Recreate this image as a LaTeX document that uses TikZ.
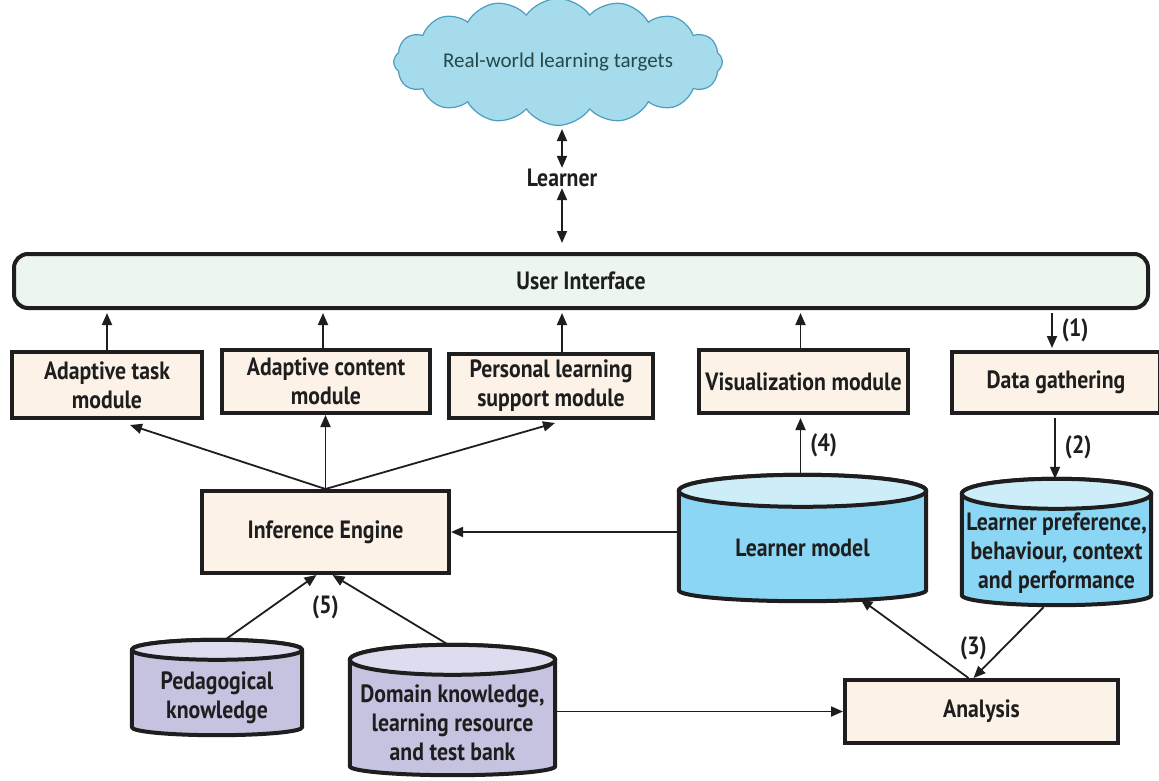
\documentclass[tikz,border=0pt]{standalone}
\usepackage{fontspec}
\setmainfont[FakeStretch=0.87]{PT Sans}
\newfontfamily\cloudfont{Carlito}
\usetikzlibrary{shapes.symbols,arrows.meta,calc,backgrounds}
\definecolor{boxfill}{HTML}{FDF2E8}
\definecolor{uifill}{HTML}{EDF6EE}
\definecolor{lmbody}{HTML}{8BD6F4}
\definecolor{lmtop}{HTML}{CDEDF9}
\definecolor{kbody}{HTML}{C6C3E1}
\definecolor{ktop}{HTML}{DEDCEF}
\definecolor{cloudfill}{HTML}{A5DBEA}
\definecolor{cloudline}{HTML}{4C9DBF}
\definecolor{cloudtext}{HTML}{264848}
\definecolor{ink}{HTML}{1E1E1E}
\tikzset{
  txt/.style={font=\bfseries\fontsize{25}{29}\selectfont, text=ink},
  box/.style={draw=ink, line width=4pt, fill=boxfill, align=center, inner sep=0pt, txt},
  db/.style={inner sep=0pt},
  dblabel/.style={txt, align=center},
  conn/.style={draw=ink, line width=1.8pt, -{Triangle[length=12pt,width=10pt]}},
  dconn/.style={draw=ink, line width=1.8pt, {Triangle[length=12pt,width=10pt]}-{Triangle[length=12pt,width=10pt]}},
  lbl/.style={txt, inner sep=1pt},
  dbline/.style={draw=ink, line width=4pt, line join=round}
}
% #1 node name, #2 body colour, #3 top colour, #4 top cap depth, #5 bottom depth
\newcommand\dbdraw[5]{%
  \path[dbline, fill=#2] let \p1=(#1.north west), \p2=(#1.south east), \n1={(\x2-\x1)/2} in
    (\x1,{\y1-#4}) -- (\x1,{\y2+#5})
    arc[start angle=180, end angle=360, x radius=\n1, y radius=#5]
    -- (\x2,{\y1-#4})
    arc[start angle=0, end angle=180, x radius=\n1, y radius=#4] -- cycle;
  \path[dbline, fill=#3] let \p1=(#1.north west), \p2=(#1.north east), \n1={(\x2-\x1)/2} in
    ({(\x1+\x2)/2},{\y1-#4}) ellipse[x radius=\n1, y radius=#4];
}
\begin{document}
\begin{tikzpicture}[x=1pt,y=-1pt]
\useasboundingbox (0,0) rectangle (1159,780);

% cloud
\node[cloud, cloud puffs=16, cloud puff arc=110, aspect=3.4, draw=cloudline, line width=1.2pt,
      fill=cloudfill, minimum width=325pt, minimum height=92pt, inner sep=0pt,
      font=\cloudfont\fontsize{21}{24}\selectfont, text=cloudtext] (rw) at (558,62) {Real-world learning targets};

\node[lbl] (lr) at (562,178) {Learner};

\node[draw=ink, line width=4pt, rounded corners=14pt, fill=uifill, minimum width=1134pt,
      minimum height=54pt, txt] (ui) at (581,281) {User Interface};

% module row
\node[box, minimum width=190pt, minimum height=66pt] (atm) at (107,385) {Adaptive task\\module};
\node[box, minimum width=208pt, minimum height=63pt] (acm) at (326,381.5) {Adaptive content\\module};
\node[box, minimum width=204pt, minimum height=64pt] (pls) at (551,386) {Personal learning\\support module};
\node[box, minimum width=209pt, minimum height=63pt] (vis) at (803.5,381.5) {Visualization module};
\node[box, minimum width=208pt, minimum height=61pt] (dg) at (1056,382.5) {Data gathering};

\node[box, minimum width=247pt, minimum height=82pt] (ie) at (325.5,532) {Inference Engine};
\node[box, minimum width=273pt, minimum height=63pt] (an) at (981.5,711.5) {Analysis};

% databases (outline node + drawn cylinder behind)
\node[db, minimum width=247pt, minimum height=126pt,
      label={[dblabel, yshift=-10pt]center:Learner model}] (lm) at (802.5,538) {};
\node[db, minimum width=189pt, minimum height=126pt,
      label={[dblabel, yshift=-11pt]center:Learner preference,\\behaviour, context\\and performance}] (lp) at (1056.5,542) {};
\node[db, minimum width=170pt, minimum height=95pt,
      label={[dblabel, yshift=-10pt]center:Pedagogical\\knowledge}] (pk) at (217,687.5) {};
\node[db, minimum width=205pt, minimum height=130pt,
      label={[dblabel, yshift=-13pt]center:Domain knowledge,\\learning resource\\and test bank}] (dk) at (452.5,710) {};
\begin{pgfonlayer}{background}
  \dbdraw{lm}{lmbody}{lmtop}{16pt}{11pt}
  \dbdraw{lp}{lmbody}{lmtop}{15pt}{10pt}
  \dbdraw{pk}{kbody}{ktop}{10pt}{8pt}
  \dbdraw{dk}{kbody}{ktop}{15pt}{9pt}
\end{pgfonlayer}

% connectors
\draw[dconn, shorten <=3pt] (lr.north |- rw.south) -- (lr.north);
\draw[dconn, shorten >=9pt] (lr.south) -- (lr.south |- ui.north);

\draw[conn, shorten >=3pt] (atm.north) -- (atm.north |- ui.south);
\draw[conn, shorten >=3pt] ([xshift=-3pt]acm.north) -- ([xshift=-3pt]acm.north |- ui.south);
\draw[conn, shorten >=3pt] ([xshift=11pt]pls.north) -- ([xshift=11pt]pls.north |- ui.south);
\draw[conn, shorten >=3pt] ([xshift=-3pt]vis.north) -- ([xshift=-3pt]vis.north |- ui.south);

\draw[conn, shorten <=3pt, shorten >=2pt] ([xshift=-4pt]dg.north |- ui.south) -- ([xshift=-4pt]dg.north)
  node[lbl, midway, right=8pt] (l1) {(1)};
\draw[conn, shorten <=3pt] ([xshift=-1pt]dg.south) -- ([xshift=-1pt]dg.south |- lp.north)
  node[lbl, midway, right=8pt] (l2) {(2)};
\draw[conn, shorten >=3pt] ([xshift=-2pt]lm.north) -- ([xshift=-2pt]lm.north |- vis.south)
  node[lbl, midway, right=8pt] (l4) {(4)};

\draw[conn] (lm.west |- ie.east) -- (ie.east);
\draw[conn] (ie.north) -- ([xshift=23pt,yshift=-5pt]atm.south);
\draw[conn] (ie.north) -- (ie.north |- acm.south);
\draw[conn] (ie.north) -- ([xshift=4pt,yshift=-3pt]pls.south);

\draw[conn] ([xshift=8pt]pk.north) -- ([xshift=-9pt]ie.south);
\draw[conn] ([xshift=-4pt]dk.north) -- ([xshift=7pt]ie.south);
\node[lbl] (l5) at ([yshift=-32pt]ie.south) {(5)};

\draw[conn] (dk.east |- an.west) -- (an.west);
\draw[conn] ([xshift=-13pt]an.north) -- ([xshift=58pt,yshift=2pt]lm.south);
\draw[conn] ([xshift=-13pt,yshift=-2pt]lp.south) -- ([xshift=-8pt]an.north);
\node[lbl] (l3) at ([xshift=-8pt,yshift=30pt]an.north) {(3)};
\end{tikzpicture}
\end{document}
